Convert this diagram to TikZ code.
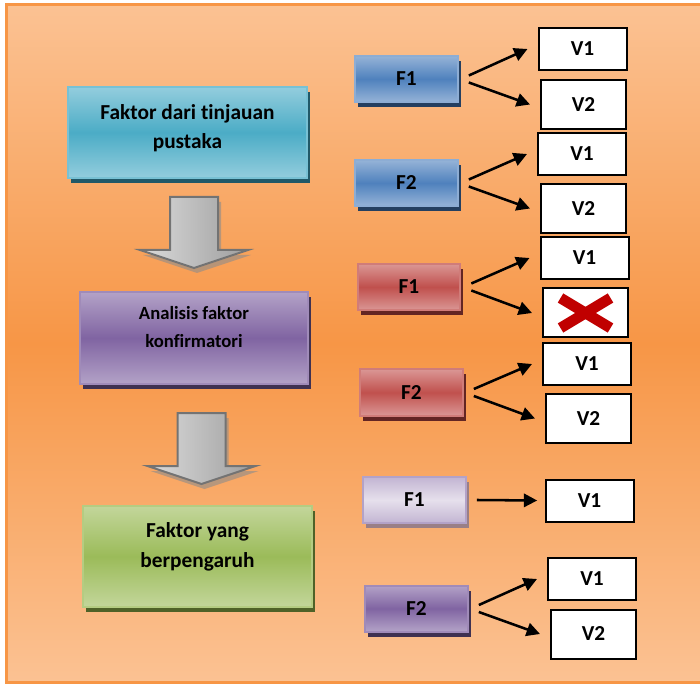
\documentclass[tikz,border=0pt]{standalone}
\usepackage{fontspec}
\setmainfont[RawFeature=-liga]{Carlito}
\usetikzlibrary{arrows.meta,shadows}
\definecolor{bglight}{HTML}{FBC293}
\definecolor{bgdark}{HTML}{F79646}
\definecolor{tealmid}{HTML}{4BACC6}
\definecolor{teallt}{HTML}{93CDDD}
\definecolor{tealsh}{HTML}{215968}
\definecolor{bluemid}{HTML}{4F81BD}
\definecolor{bluelt}{HTML}{95B3D7}
\definecolor{bluesh}{HTML}{243F60}
\definecolor{redmid}{HTML}{C0504D}
\definecolor{redlt}{HTML}{DA9694}
\definecolor{redsh}{HTML}{632523}
\definecolor{purmid}{HTML}{8064A2}
\definecolor{purlt}{HTML}{B3A2C7}
\definecolor{pursh}{HTML}{3F3151}
\definecolor{lilac}{HTML}{E6E0EC}
\definecolor{lilacsh}{HTML}{9A7F86}
\definecolor{grnmid}{HTML}{9BBB59}
\definecolor{grnlt}{HTML}{C3D69B}
\definecolor{grnsh}{HTML}{4F6228}
\definecolor{xred}{HTML}{C00000}
\tikzset{
  glossy/.style n args={4}{draw=#1,line width=1.5pt,top color=#2,bottom color=#2,middle color=#3,
    drop shadow={shadow xshift=2.25pt,shadow yshift=-3.75pt,fill=#4,opacity=1}},
  bigbox/.style={align=center,font=\bfseries\fontsize{16}{22}\selectfont},
  fbox/.style={minimum width=77pt,minimum height=34.5pt,font=\bfseries\fontsize{16}{18}\selectfont},
  vone/.style={draw,line width=1.5pt,fill=white,minimum width=66pt,minimum height=31.5pt,font=\bfseries\fontsize{16}{18}\selectfont},
  vtwo/.style={vone,minimum width=63.75pt,minimum height=36.75pt},
  link/.style={line width=1.9pt,-{Triangle[length=10pt,width=10pt]}}
}
\newcommand{\fork}[3]{
\draw[link] ([shift={(10,-3.5)}]#1.east) -- ([xshift=-7.5pt]#2.west);
\draw[link] ([shift={(10,3.5)}]#1.east) -- ([xshift=-7.5pt]#3.west);
}
\newcommand{\grayarrow}[2]{
\fill[black!45,opacity=.6,shift={(#1+3,#2+5)}] (-24,0) -- (24,0) -- (24,53) -- (54,53) -- (0,71) -- (-54,53) -- (-24,53) -- cycle;
\shade[draw=black!55,line width=1.5pt,left color=black!14,right color=black!38,shift={(#1,#2)}]
  (-24,0) -- (24,0) -- (24,53) -- (54,53) -- (0,71) -- (-54,53) -- (-24,53) -- cycle;
}

\begin{document}
\begin{tikzpicture}[x=0.75pt,y=-0.75pt]
\useasboundingbox (0,0) rectangle (700,684);
\shade[top color=bglight,bottom color=bglight,middle color=bgdark] (6.5,4.5) rectangle (712,682);
\draw[bgdark,line width=2.25pt] (6.5,4.5) rectangle (712,682);
% left column
\node[bigbox,glossy={tealmid!75!white}{teallt}{tealmid}{tealsh},minimum width=179pt,minimum height=68pt,text depth=9pt] (tin) at (187.5,132.5) {Faktor dari tinjauan\\pustaka};
\node[bigbox,glossy={purmid!75!white}{purlt}{purmid}{pursh},minimum width=171pt,minimum height=69pt,font=\bfseries\fontsize{14}{21}\selectfont,text depth=17pt] (ana) at (194,338) {Analisis faktor\\konfirmatori};
\node[bigbox,glossy={grnmid!75!white}{grnlt}{grnmid}{grnsh},minimum width=172pt,minimum height=76pt,text depth=17pt] (hasil) at (197.5,556.5) {Faktor yang\\berpengaruh};
\grayarrow{194}{197}
\grayarrow{201.5}{413}
% factors
\node[fbox,glossy={bluemid!65!white}{bluelt}{bluemid}{bluesh}] (bf1) at (406.5,79) {F1};
\node[fbox,glossy={bluemid!65!white}{bluelt}{bluemid}{bluesh}] (bf2) at (406.5,183) {F2};
\node[fbox,glossy={redmid!75!white}{redlt}{redmid}{redsh}] (rf1) at (409,287) {F1};
\node[fbox,glossy={redmid!75!white}{redlt}{redmid}{redsh}] (rf2) at (411.5,392.5) {F2};
\node[fbox,glossy={purlt}{purlt!80!white}{lilac}{lilacsh}] (lf1) at (414.5,500) {F1};
\node[fbox,glossy={purmid!75!white}{purlt}{purmid}{pursh}] (pf2) at (416.5,608.5) {F2};
% variables
\node[vone] (bv11) at (582.5,49) {V1};
\node[vtwo] (bv12) at (583.5,104.5) {V2};
\node[vone] (bv21) at (582,154) {V1};
\node[vtwo] (bv22) at (583.5,208.5) {V2};
\node[vone] (rv11) at (584.5,258) {V1};
\node[vtwo] (rx12) at (585.5,313) {};
\node[vone] (rv21) at (587,364) {V1};
\node[vtwo] (rv22) at (588.5,418.5) {V2};
\node[vone] (lv11) at (589.5,500.5) {V1};
\node[vone] (pv21) at (592,579) {V1};
\node[vtwo] (pv22) at (593.5,634) {V2};
\draw[xred,line width=8pt] ([shift={(-25,-15)}]rx12.center) -- ([shift={(25,15)}]rx12.center);
\draw[xred,line width=8pt] ([shift={(-25,15)}]rx12.center) -- ([shift={(25,-15)}]rx12.center);
\fork{bf1}{bv11}{bv12}
\fork{bf2}{bv21}{bv22}
\fork{rf1}{rv11}{rx12}
\fork{rf2}{rv21}{rv22}
\draw[link] ([xshift=7.5pt]lf1.east) -- ([xshift=-5.5pt]lv11.west);
\fork{pf2}{pv21}{pv22}
\end{tikzpicture}
\end{document}
